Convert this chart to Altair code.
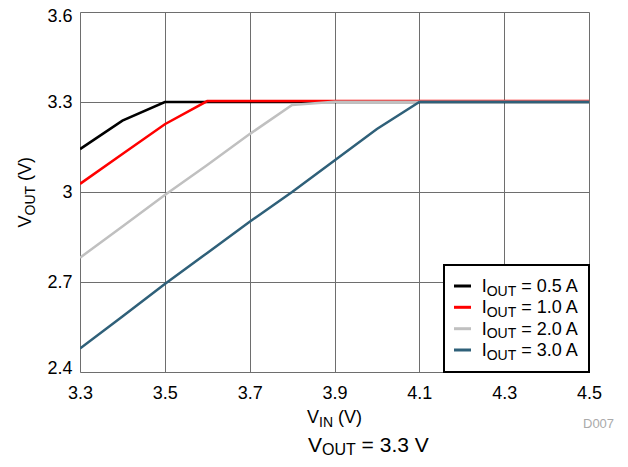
import altair as alt
import pandas as pd

# ---------------- data ----------------
vin = [3.3, 3.4, 3.5, 3.6, 3.7, 3.8, 3.9, 4.0, 4.1, 4.2, 4.3, 4.4, 4.5]
vout_05a = [3.143, 3.238, 3.300, 3.300, 3.300, 3.300, 3.300, 3.300, 3.300, 3.300, 3.300, 3.300, 3.300]
vout_10a = [3.027, 3.127, 3.226, 3.303, 3.303, 3.303, 3.303, 3.303, 3.303, 3.303, 3.303, 3.303, 3.303]
vout_20a = [2.781, 2.885, 2.990, 3.090, 3.193, 3.290, 3.301, 3.301, 3.301, 3.301, 3.301, 3.301, 3.301]
vout_30a = [2.478, 2.585, 2.693, 2.797, 2.901, 3.000, 3.105, 3.210, 3.300, 3.300, 3.300, 3.300, 3.300]
series_labels = ["0.5 A", "1.0 A", "2.0 A", "3.0 A"]
series_values = [vout_05a, vout_10a, vout_20a, vout_30a]
series_colors = ["#000000", "#ff0000", "#c0c0c0", "#2f6079"]
x_ticks = [3.3, 3.5, 3.7, 3.9, 4.1, 4.3, 4.5]
y_ticks = [2.4, 2.7, 3.0, 3.3, 3.6]
title_rest = " = 3.3 V"
x_title_rest = " (V)"
y_title_rest = " (V)"
note_text = "D007"

FONT = "Liberation Sans"
W, H = 509, 360

# Arial / Liberation Sans advance widths (em)
ADV = {'V': 0.667, 'O': 0.778, 'U': 0.722, 'T': 0.611, 'I': 0.278, 'N': 0.722,
       ' ': 0.278, '=': 0.584, '.': 0.278, '(': 0.333, ')': 0.333,
       'A': 0.667, 'D': 0.722}
for d in "0123456789":
    ADV[d] = 0.556


def tw(s, size):
    return sum(ADV.get(c, 0.556) for c in s) * size


one = pd.DataFrame({"k": [0]})


def rich(pieces, x, y, angle=0, color="black"):
    """pieces: list of (text, size, shift). Horizontal or rotated 270."""
    layers = []
    pos = 0.0
    for text, size, shift in pieces:
        lead = len(text) - len(text.lstrip(" "))
        pos += lead * ADV[' '] * size
        text = text.lstrip(" ")
        if angle == 0:
            px, py = x + pos, y + shift
        else:
            px, py = x + shift, y - pos
        d = pd.DataFrame({"t": [text]})
        kw = dict(font=FONT, fontSize=size, align="left", baseline="alphabetic", color=color)
        if angle:
            kw["angle"] = angle
        layers.append(
            alt.Chart(d).mark_text(**kw).encode(
                text="t:N", x=alt.value(px), y=alt.value(py)
            )
        )
        pos += tw(text, size)
    return layers


rows = []
for lab, vals in zip(series_labels, series_values):
    for a, b in zip(vin, vals):
        rows.append({"vin": a, "vout": b, "series": lab})
df = pd.DataFrame(rows)

x_enc = alt.X(
    "vin:Q",
    scale=alt.Scale(domain=[3.3, 4.5], nice=False, zero=False),
    axis=alt.Axis(values=x_ticks, format=".1f", title=None, grid=True, ticks=False,
                  domain=False, labelPadding=12, labelFontSize=18, labelFont=FONT,
                  labelColor="black", gridColor="#6e6e6e", gridWidth=1,
                  labelOverlap=False, labelFlush=False, labelBound=False),
)
y_enc = alt.Y(
    "vout:Q",
    scale=alt.Scale(domain=[2.4, 3.6], nice=False, zero=False),
    axis=alt.Axis(values=y_ticks, format=".1~f", title=None, grid=True, ticks=False,
                  domain=False, labelPadding=8, labelFontSize=18, labelFont=FONT,
                  labelColor="black", gridColor="#6e6e6e", gridWidth=1,
                  labelOverlap=False, labelFlush=False, labelBound=False,
                  labelOffset={"condition": [
                      {"test": "datum.value > 3.55", "value": 4},
                      {"test": "datum.value < 2.45", "value": -4},
                  ], "value": 0}),
)

layers = []
for lab, col in zip(series_labels, series_colors):
    layers.append(
        alt.Chart(df).transform_filter(alt.datum.series == lab)
        .mark_line(color=col, strokeWidth=2.5, clip=True)
        .encode(x=x_enc, y=y_enc)
    )

# legend box
layers.append(
    alt.Chart(one).mark_rect(fill="white", stroke="black", strokeWidth=2).encode(
        x=alt.value(364), x2=alt.value(W), y=alt.value(253), y2=alt.value(H)
    )
)
row_y = [274, 295.3, 316.7, 338]
for lab, col, ry in zip(series_labels, series_colors, row_y):
    layers.append(
        alt.Chart(one).mark_rule(color=col, strokeWidth=3).encode(
            x=alt.value(374), x2=alt.value(391), y=alt.value(ry)
        )
    )
    layers += rich([("I", 18, 0), ("OUT", 14, 3.5), (" = " + lab, 18, 0)], 401.7, ry + 6)

# axis titles and caption
layers += rich([("V", 18, 0), ("IN", 14, 3.5), (x_title_rest, 18, 0)], 227, 411)
layers += rich([("V", 18, 0), ("OUT", 14, 3.5), (y_title_rest, 18, 0)], -49, 215.5, angle=270)
layers += rich([("V", 21, 0), ("OUT", 16, 3), (title_rest, 21, 0)], 228, 440)
layers += rich([(note_text, 13, 0)], 503, 416, color="#aaaaaa")

chart = (
    alt.layer(*layers)
    .properties(
        width=W, height=H,
        autosize=alt.AutoSizeParams(type="none"),
        padding={"left": 72, "top": 4, "right": 31, "bottom": 87},
    )
    .configure_view(stroke="black", strokeWidth=3)
    .configure(background="white")
)

chart.save("out.html", embed_options={"renderer": "svg", "actions": False})
